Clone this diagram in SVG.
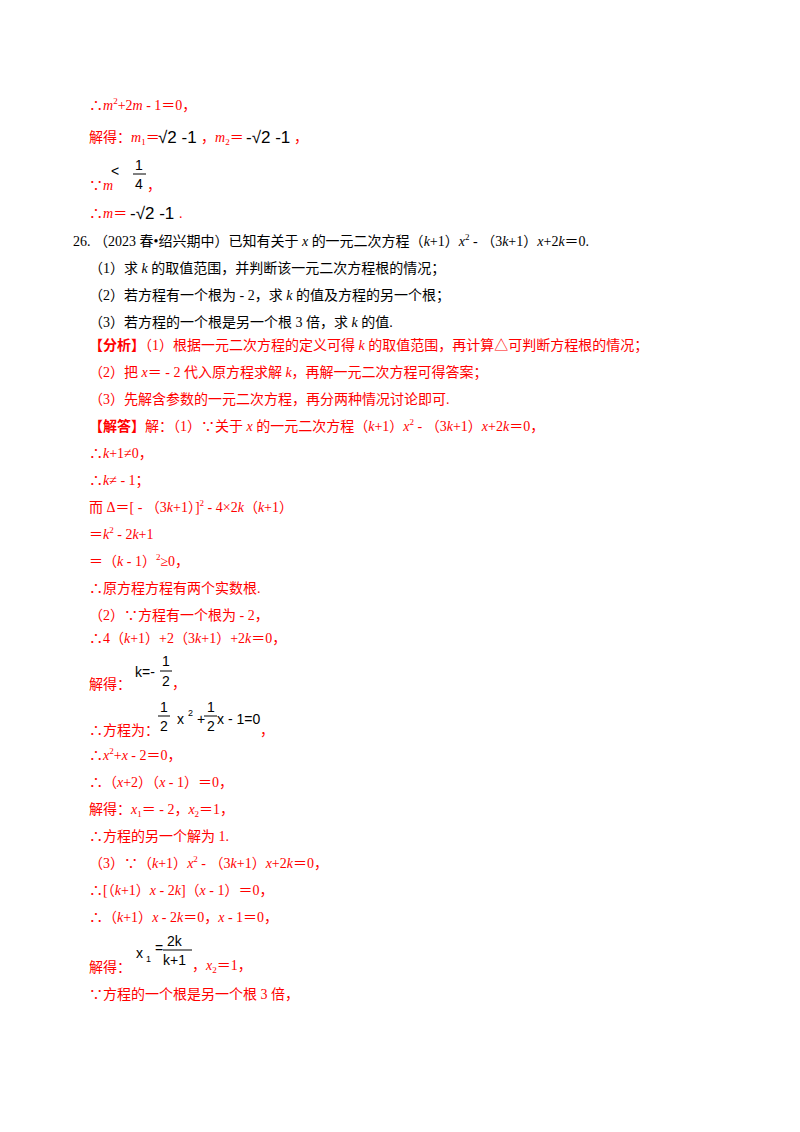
<svg xmlns="http://www.w3.org/2000/svg" width="800" height="1132" viewBox="0 0 800 1132">
<style>
text{font-family:"Liberation Serif","Noto Sans CJK SC",serif;font-size:14px;fill:#ff0000}
.b{fill:#000}
.m{font-family:"Liberation Sans","Noto Sans CJK SC",sans-serif;fill:#000;font-size:14px}
.r{font-family:"Liberation Sans",sans-serif;fill:#000;font-size:17px}
.i{font-style:italic}
.s{font-size:9px}
</style>
<rect width="800" height="1132" fill="#fff"/>
<text x="89" y="110">∴<tspan class="i">m</tspan><tspan class="s" dy="-6">2</tspan><tspan dy="6">+2</tspan><tspan class="i">m</tspan> - 1＝0，</text>
<text x="89" y="142">解得：<tspan class="i">m</tspan><tspan class="s" dy="3">1</tspan><tspan dy="-3">＝</tspan></text>
<text class="r" x="158" y="143">√2 -1</text>
<text x="201" y="142">，<tspan class="i">m</tspan><tspan class="s" dy="3">2</tspan><tspan dy="-3">＝</tspan></text>
<text class="r" x="246" y="143">-√2 -1</text>
<text x="294" y="142">，</text>
<text x="89" y="190">∵<tspan class="i">m</tspan></text>
<text class="m" x="111" y="176" font-size="20">&lt;</text>
<text class="m" x="135" y="170">1</text>
<line x1="133" y1="174" x2="146" y2="174" stroke="#000" stroke-width="1"/>
<text class="m" x="135" y="189">4</text>
<text x="147" y="190">，</text>
<text x="89" y="218">∴<tspan class="i">m</tspan>＝</text>
<text class="r" x="130" y="219">-√2 -1</text>
<text x="179" y="218">.</text>
<text class="b" x="73" y="246">26.  （2023 春•绍兴期中）已知有关于 <tspan class="i">x</tspan> 的一元二次方程（<tspan class="i">k</tspan>+1）<tspan class="i">x</tspan><tspan class="s" dy="-6">2</tspan><tspan dy="6"> - （3</tspan><tspan class="i">k</tspan>+1）<tspan class="i">x</tspan>+2<tspan class="i">k</tspan>＝0.</text>
<text class="b" x="89" y="273">（1）求 <tspan class="i">k</tspan> 的取值范围，并判断该一元二次方程根的情况；</text>
<text class="b" x="89" y="300">（2）若方程有一个根为 - 2，求 <tspan class="i">k</tspan> 的值及方程的另一个根；</text>
<text class="b" x="89" y="327">（3）若方程的一个根是另一个根 3 倍，求 <tspan class="i">k</tspan> 的值.</text>
<text x="89" y="350"><tspan font-weight="bold">【分析】</tspan>（1）根据一元二次方程的定义可得 <tspan class="i">k</tspan> 的取值范围，再计算△可判断方程根的情况；</text>
<text x="89" y="377">（2）把 <tspan class="i">x</tspan>＝ - 2 代入原方程求解 <tspan class="i">k</tspan>，再解一元二次方程可得答案；</text>
<text x="89" y="404">（3）先解含参数的一元二次方程，再分两种情况讨论即可.</text>
<text x="89" y="431"><tspan font-weight="bold">【解答】</tspan>解：（1）∵关于 <tspan class="i">x</tspan> 的一元二次方程（<tspan class="i">k</tspan>+1）<tspan class="i">x</tspan><tspan class="s" dy="-6">2</tspan><tspan dy="6"> - （3</tspan><tspan class="i">k</tspan>+1）<tspan class="i">x</tspan>+2<tspan class="i">k</tspan>＝0，</text>
<text x="89" y="458">∴<tspan class="i">k</tspan>+1≠0，</text>
<text x="89" y="485">∴<tspan class="i">k</tspan>≠ - 1；</text>
<text x="89" y="512">而 Δ＝[ - （3<tspan class="i">k</tspan>+1）]<tspan class="s" dy="-6">2</tspan><tspan dy="6"> - 4×2</tspan><tspan class="i">k</tspan>（<tspan class="i">k</tspan>+1）</text>
<text x="89" y="539">＝<tspan class="i">k</tspan><tspan class="s" dy="-6">2</tspan><tspan dy="6"> - 2</tspan><tspan class="i">k</tspan>+1</text>
<text x="89" y="566">＝（<tspan class="i">k</tspan> - 1）<tspan class="s" dy="-6">2</tspan><tspan dy="6">≥0，</tspan></text>
<text x="89" y="593">∴原方程方程有两个实数根.</text>
<text x="89" y="620">（2）∵方程有一个根为 - 2，</text>
<text x="89" y="643">∴4（<tspan class="i">k</tspan>+1）+2（3<tspan class="i">k</tspan>+1）+2<tspan class="i">k</tspan>＝0，</text>
<text x="89" y="689">解得：</text>
<text class="m" x="135" y="677">k=-</text>
<text class="m" x="162" y="666">1</text>
<line x1="160" y1="671" x2="172" y2="671" stroke="#000"/>
<text class="m" x="162" y="686">2</text>
<text x="172" y="688">，</text>
<text x="89" y="735">∴方程为：</text>
<text class="m" x="160" y="712">1</text>
<line x1="158" y1="716" x2="170" y2="716" stroke="#000"/>
<text class="m" x="160" y="731">2</text>
<text class="m" x="177" y="724">x</text>
<text class="m s" x="188" y="716">2</text>
<text class="m" x="197" y="724">+</text>
<text class="m" x="207" y="712">1</text>
<line x1="204" y1="716" x2="217" y2="716" stroke="#000"/>
<text class="m" x="207" y="731">2</text>
<text class="m" x="217" y="724">x - 1=0</text>
<text x="260" y="735">，</text>
<text x="89" y="760">∴<tspan class="i">x</tspan><tspan class="s" dy="-6">2</tspan><tspan dy="6">+</tspan><tspan class="i">x</tspan> - 2＝0，</text>
<text x="89" y="787">∴（<tspan class="i">x</tspan>+2）（<tspan class="i">x</tspan> - 1）＝0，</text>
<text x="89" y="814">解得：<tspan class="i">x</tspan><tspan class="s" dy="3">1</tspan><tspan dy="-3">＝ - 2，</tspan><tspan class="i">x</tspan><tspan class="s" dy="3">2</tspan><tspan dy="-3">＝1，</tspan></text>
<text x="89" y="841">∴方程的另一个解为 1.</text>
<text x="89" y="868">（3）∵（<tspan class="i">k</tspan>+1）<tspan class="i">x</tspan><tspan class="s" dy="-6">2</tspan><tspan dy="6"> - （3</tspan><tspan class="i">k</tspan>+1）<tspan class="i">x</tspan>+2<tspan class="i">k</tspan>＝0，</text>
<text x="89" y="895">∴[（<tspan class="i">k</tspan>+1）<tspan class="i">x</tspan> - 2<tspan class="i">k</tspan>]（<tspan class="i">x</tspan> - 1）＝0，</text>
<text x="89" y="922">∴（<tspan class="i">k</tspan>+1）<tspan class="i">x</tspan> - 2<tspan class="i">k</tspan>＝0，<tspan class="i">x</tspan> - 1＝0，</text>
<text x="89" y="972">解得：</text>
<text class="m" x="136" y="958">x</text>
<text class="m s" x="146" y="962">1</text>
<text class="m" x="155" y="953">=</text>
<text class="m" x="167" y="946">2k</text>
<line x1="163" y1="950" x2="192" y2="950" stroke="#000"/>
<text class="m" x="163" y="965">k+1</text>
<text x="192" y="970">，<tspan class="i">x</tspan><tspan class="s" dy="3">2</tspan><tspan dy="-3">＝1，</tspan></text>
<text x="89" y="999">∵方程的一个根是另一个根 3 倍，</text>
</svg>
